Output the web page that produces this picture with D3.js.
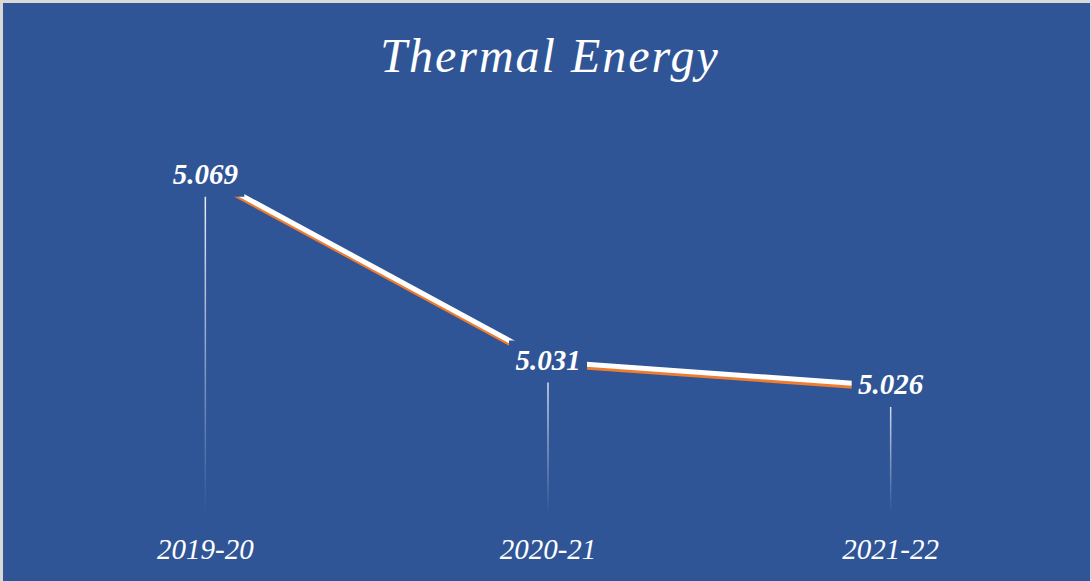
<!DOCTYPE html>
<html>
<head>
<meta charset="utf-8">
<script src="https://cdn.jsdelivr.net/npm/d3@7"></script>
<style>
  html, body { margin: 0; padding: 0; background: #d9d9d9; }
  svg { display: block; }
</style>
</head>
<body>
<svg id="chart" width="1091" height="581"></svg>
<script>
// Thermal energy by fiscal year
const categories = ["2019-20", "2020-21", "2021-22"];
const values = [5.069, 5.031, 5.026];
const valueLabels = ["5.069", "5.031", "5.026"];
const titleText = "Thermal Energy";

const W = 1091, H = 581;
const bg = "#2f5597";
const svg = d3.select("#chart");

// panel
svg.append("rect").attr("x", 3).attr("y", 3).attr("width", W - 4).attr("height", H - 3).attr("fill", bg);

const plot = { left: 34, right: 1062, top: 122, bottom: 513 };

const x = d3.scalePoint().domain(categories).range([plot.left, plot.right]).padding(0.5);
const y = d3.scaleLinear().domain([5.0, 5.08]).range([plot.bottom, plot.top]);

const defs = svg.append("defs");
const grad = defs.append("linearGradient").attr("id", "dropFade")
  .attr("x1", 0).attr("y1", 0).attr("x2", 0).attr("y2", 1);
grad.append("stop").attr("offset", "0%").attr("stop-color", "#ffffff").attr("stop-opacity", 0.95);
grad.append("stop").attr("offset", "100%").attr("stop-color", "#ffffff").attr("stop-opacity", 0.0);

// drop lines from each point to the axis
svg.append("g").selectAll("rect").data(categories).join("rect")
  .attr("x", d => x(d) - 0.75)
  .attr("y", (d, i) => y(values[i]))
  .attr("width", 1.5)
  .attr("height", (d, i) => plot.bottom - y(values[i]))
  .attr("fill", "url(#dropFade)");

const pts = categories.map((c, i) => [x(c), y(values[i])]);
const line = d3.line();

// orange shadow under the line
svg.append("path").attr("d", line(pts.map(p => [p[0] + 1, p[1] + 3])))
  .attr("fill", "none").attr("stroke", "#ed7d31").attr("stroke-width", 5).attr("stroke-linejoin", "round");
svg.append("path").attr("d", line(pts))
  .attr("fill", "none").attr("stroke", "#ffffff").attr("stroke-width", 5).attr("stroke-linejoin", "round");

// value labels with panel-coloured boxes
const lbl = svg.append("g").selectAll("g").data(categories).join("g")
  .attr("transform", (d, i) => `translate(${x(d)},${y(values[i])})`);
lbl.append("rect").attr("x", -39).attr("y", -21).attr("width", 78).attr("height", 42).attr("fill", bg);
lbl.append("text")
  .attr("text-anchor", "middle").attr("y", -2).attr("dy", "0.35em")
  .attr("fill", "#ffffff")
  .attr("font-family", "'Liberation Serif', 'DejaVu Serif', serif")
  .attr("font-style", "italic").attr("font-weight", "bold")
  .attr("font-size", 29)
  .text((d, i) => valueLabels[i]);

// category axis labels
svg.append("g").selectAll("text").data(categories).join("text")
  .attr("x", d => x(d)).attr("y", 559)
  .attr("text-anchor", "middle").attr("fill", "#ffffff")
  .attr("font-family", "'Liberation Serif', 'DejaVu Serif', serif")
  .attr("font-style", "italic").attr("font-size", 29)
  .text(d => d);

// title
svg.append("text")
  .attr("x", 550).attr("y", 72)
  .attr("text-anchor", "middle").attr("fill", "#ffffff")
  .attr("font-family", "'Liberation Serif', 'DejaVu Serif', serif")
  .attr("font-style", "italic").attr("font-size", 48)
  .attr("letter-spacing", 2)
  .text(titleText);
</script>
</body>
</html>
